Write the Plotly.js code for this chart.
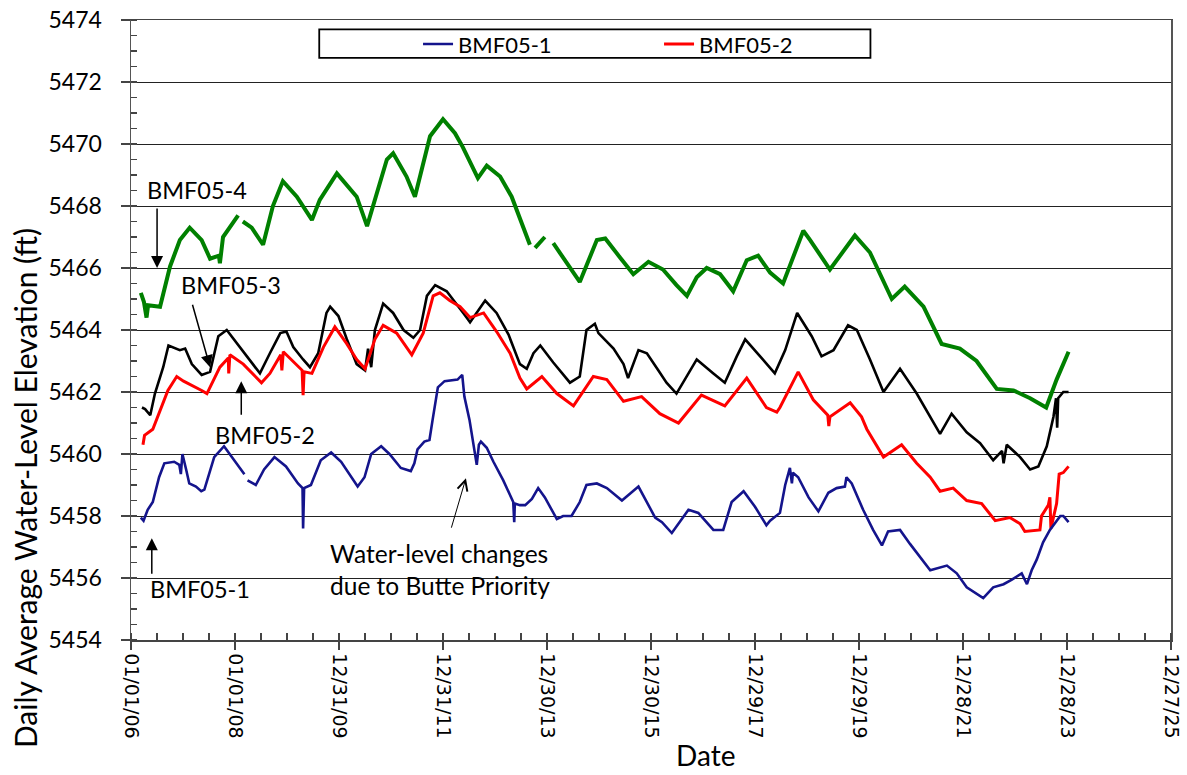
<!DOCTYPE html>
<html>
<head>
<meta charset="utf-8">
<script src="https://cdn.plot.ly/plotly-3.0.1.min.js"></script>
<style>html,body{margin:0;padding:0;background:#fff;}#chart{width:1187px;height:775px;}</style>
</head>
<body>
<div id="chart"></div>
<script>
// ---- Data (x in decimal years; y in ft) ----
const tickDates = ['2006-01-01','2008-01-01','2009-12-31','2011-12-31','2013-12-30','2015-12-30','2017-12-29','2019-12-29','2021-12-28','2023-12-28','2025-12-27'];
const tickLabels = ['01/01/06','01/01/08','12/31/09','12/31/11','12/30/13','12/30/15','12/29/17','12/29/19','12/28/21','12/28/23','12/27/25'];

const bmf1Years = [2006.19,2006.24,2006.32,2006.42,2006.54,2006.64,2006.83,2006.93,2006.96,2006.99,2007.06,2007.12,2007.25,2007.35,2007.41,2007.60,2007.79,2007.99,2008.18,2008.20,2008.24,2008.40,2008.56,2008.76,2008.98,2009.21,2009.30,2009.31,2009.33,2009.46,2009.65,2009.85,2010.04,2010.36,2010.49,2010.62,2010.81,2010.97,2011.19,2011.38,2011.45,2011.51,2011.64,2011.74,2011.80,2011.90,2012.03,2012.28,2012.37,2012.41,2012.51,2012.60,2012.65,2012.69,2012.73,2012.84,2012.97,2013.16,2013.35,2013.37,2013.38,2013.48,2013.58,2013.71,2013.83,2013.96,2014.19,2014.31,2014.47,2014.63,2014.76,2014.96,2015.15,2015.44,2015.76,2016.08,2016.21,2016.40,2016.72,2016.91,2017.20,2017.39,2017.55,2017.78,2018.00,2018.22,2018.29,2018.48,2018.58,2018.67,2018.71,2018.73,2018.83,2019.03,2019.22,2019.41,2019.57,2019.73,2019.76,2019.86,2020.08,2020.27,2020.44,2020.56,2020.79,2020.98,2021.17,2021.37,2021.69,2021.88,2022.07,2022.20,2022.39,2022.58,2022.78,2022.94,2023.13,2023.23,2023.32,2023.42,2023.54,2023.67,2023.87,2023.93,2024.03];
const bmf1Values = [5457.95,5457.85,5458.2,5458.45,5459.25,5459.7,5459.75,5459.65,5459.35,5460.0,5459.5,5459.05,5458.95,5458.8,5458.85,5459.9,5460.25,5459.8,5459.35,null,5459.15,5459.0,5459.5,5459.9,5459.6,5459.05,5458.9,5457.6,5458.9,5459.0,5459.8,5460.05,5459.75,5458.95,5459.25,5460.0,5460.25,5460.0,5459.55,5459.45,5459.7,5460.15,5460.4,5460.45,5461.1,5462.15,5462.35,5462.4,5462.55,5461.85,5461.1,5460.25,5459.65,5460.3,5460.4,5460.2,5459.75,5459.15,5458.45,5457.8,5458.4,5458.35,5458.35,5458.55,5458.9,5458.6,5457.9,5458.0,5458.0,5458.45,5459.0,5459.05,5458.9,5458.5,5458.95,5457.95,5457.8,5457.45,5458.2,5458.1,5457.55,5457.55,5458.45,5458.8,5458.3,5457.7,5457.85,5458.1,5459.0,5459.55,5459.05,5459.4,5459.25,5458.6,5458.15,5458.75,5458.9,5458.95,5459.25,5459.05,5458.2,5457.55,5457.05,5457.5,5457.55,5457.1,5456.7,5456.25,5456.4,5456.15,5455.7,5455.55,5455.35,5455.7,5455.8,5455.95,5456.15,5455.8,5456.25,5456.6,5457.15,5457.55,5458.0,5458.0,5457.8];

const bmf2Years = [2006.23,2006.26,2006.42,2006.54,2006.71,2006.88,2007.01,2007.36,2007.46,2007.71,2007.87,2007.88,2007.90,2008.16,2008.51,2008.67,2008.88,2008.90,2008.93,2009.29,2009.31,2009.33,2009.48,2009.70,2009.92,2010.15,2010.34,2010.50,2010.69,2010.85,2011.11,2011.40,2011.62,2011.81,2011.94,2012.13,2012.33,2012.52,2012.78,2013.03,2013.29,2013.48,2013.61,2013.90,2014.19,2014.51,2014.89,2015.15,2015.47,2015.82,2016.17,2016.53,2016.97,2017.42,2017.84,2018.22,2018.42,2018.48,2018.83,2019.12,2019.40,2019.42,2019.44,2019.83,2020.05,2020.15,2020.47,2020.82,2021.11,2021.37,2021.56,2021.81,2022.07,2022.36,2022.62,2022.90,2023.10,2023.19,2023.48,2023.51,2023.64,2023.67,2023.69,2023.80,2023.85,2023.93,2023.98,2024.03];
const bmf2Values = [5460.3,5460.6,5460.8,5461.3,5462.05,5462.5,5462.35,5462.05,5461.95,5462.8,5463.1,5462.6,5463.2,5462.9,5462.3,5462.6,5463.2,5462.7,5463.3,5462.7,5461.9,5462.65,5462.6,5463.45,5464.1,5463.55,5463.05,5462.75,5463.7,5464.15,5463.9,5463.2,5463.9,5465.1,5465.2,5464.95,5464.75,5464.4,5464.55,5463.95,5463.25,5462.45,5462.1,5462.5,5461.95,5461.55,5462.5,5462.4,5461.7,5461.85,5461.3,5461.0,5461.9,5461.55,5462.45,5461.5,5461.35,5461.5,5462.65,5461.75,5461.25,5460.9,5461.2,5461.65,5461.2,5460.8,5459.9,5460.3,5459.7,5459.25,5458.8,5458.9,5458.5,5458.4,5457.85,5457.95,5457.75,5457.5,5457.55,5458.0,5458.35,5458.6,5457.6,5458.4,5459.35,5459.4,5459.5,5459.6];

const bmf3Years = [2006.21,2006.27,2006.37,2006.46,2006.62,2006.72,2006.94,2007.04,2007.17,2007.36,2007.52,2007.68,2007.84,2008.16,2008.48,2008.67,2008.87,2008.99,2009.12,2009.31,2009.44,2009.60,2009.76,2009.83,2009.99,2010.15,2010.34,2010.50,2010.56,2010.62,2010.69,2010.85,2011.04,2011.24,2011.43,2011.56,2011.69,2011.85,2012.07,2012.39,2012.52,2012.81,2013.03,2013.26,2013.48,2013.61,2013.74,2013.87,2014.12,2014.44,2014.63,2014.76,2014.92,2014.99,2015.28,2015.47,2015.56,2015.76,2015.92,2016.14,2016.30,2016.49,2016.88,2017.20,2017.42,2017.65,2017.81,2018.10,2018.38,2018.58,2018.81,2019.09,2019.28,2019.51,2019.79,2019.96,2020.21,2020.47,2020.66,2020.79,2021.11,2021.37,2021.56,2021.78,2022.07,2022.33,2022.58,2022.75,2022.78,2022.84,2023.10,2023.29,2023.45,2023.61,2023.74,2023.79,2023.81,2023.83,2023.93,2024.03];
const bmf3Values = [5461.5,5461.45,5461.25,5461.95,5462.8,5463.5,5463.35,5463.4,5462.9,5462.55,5462.65,5463.8,5464.0,5463.3,5462.6,5463.25,5463.9,5463.95,5463.45,5463.05,5462.8,5463.25,5464.55,5464.75,5464.45,5463.7,5462.9,5462.7,5463.4,5462.8,5464.0,5464.85,5464.55,5464.0,5463.75,5464.0,5465.1,5465.45,5465.25,5464.55,5464.25,5464.95,5464.55,5463.85,5462.9,5462.75,5463.25,5463.5,5462.95,5462.3,5462.5,5464.0,5464.2,5463.9,5463.4,5462.9,5462.45,5463.35,5463.25,5462.7,5462.3,5461.95,5463.05,5462.6,5462.3,5463.15,5463.7,5463.15,5462.6,5463.35,5464.55,5463.8,5463.15,5463.35,5464.15,5464.0,5463.05,5462.0,5462.45,5462.75,5461.95,5461.2,5460.65,5461.3,5460.7,5460.35,5459.8,5460.1,5459.7,5460.3,5459.9,5459.5,5459.6,5460.25,5461.2,5461.8,5460.85,5461.8,5462.0,5462.0];

const bmf4Years = [2006.19,2006.25,2006.30,2006.33,2006.56,2006.75,2006.94,2007.13,2007.36,2007.52,2007.69,2007.71,2007.77,2008.06,2008.08,2008.15,2008.32,2008.54,2008.73,2008.92,2009.19,2009.48,2009.63,2009.96,2010.34,2010.54,2010.69,2010.92,2011.04,2011.30,2011.46,2011.56,2011.75,2012.00,2012.23,2012.38,2012.67,2012.84,2013.10,2013.32,2013.67,2013.70,2013.77,2013.96,2014.00,2014.12,2014.63,2014.96,2015.12,2015.40,2015.66,2015.95,2016.23,2016.49,2016.69,2016.88,2017.07,2017.33,2017.58,2017.84,2018.06,2018.29,2018.54,2018.93,2019.06,2019.44,2019.92,2020.21,2020.63,2020.88,2021.24,2021.59,2021.94,2022.26,2022.65,2022.97,2023.29,2023.60,2023.80,2024.03];
const bmf4Values = [5465.2,5464.9,5464.4,5464.8,5464.75,5466.05,5466.9,5467.3,5466.9,5466.3,5466.4,5466.15,5467.0,5467.7,null,5467.5,5467.3,5466.75,5468.0,5468.8,5468.3,5467.55,5468.2,5469.05,5468.3,5467.35,5468.2,5469.5,5469.7,5468.95,5468.3,5469.0,5470.25,5470.8,5470.35,5469.9,5468.9,5469.3,5468.95,5468.3,5466.75,null,5466.65,5467.0,null,5466.8,5465.55,5466.9,5466.95,5466.35,5465.8,5466.2,5465.95,5465.45,5465.1,5465.7,5466.0,5465.8,5465.25,5466.25,5466.4,5465.85,5465.5,5467.2,5466.9,5465.95,5467.05,5466.5,5465.0,5465.4,5464.75,5463.55,5463.4,5463.0,5462.1,5462.05,5461.8,5461.5,5462.4,5463.3];

// decimal year (365-day steps, as on the axis) -> ISO date
function toDate(yr){
  const ms = Date.UTC(2006,0,1) + Math.round((yr-2006)*365)*86400000;
  return new Date(ms).toISOString().slice(0,10);
}
const conv = a => a.map(toDate);

const FONT = 'Lato, "Open Sans", sans-serif';
const traces = [
  {x: conv(bmf4Years), y: bmf4Values, name:'BMF05-4', mode:'lines', line:{color:'#008000', width:4}, showlegend:false},
  {x: conv(bmf3Years), y: bmf3Values, name:'BMF05-3', mode:'lines', line:{color:'#000000', width:2.6}, showlegend:false},
  {x: conv(bmf2Years), y: bmf2Values, name:'BMF05-2', mode:'lines', line:{color:'#ff0000', width:3}},
  {x: conv(bmf1Years), y: bmf1Values, name:'BMF05-1', mode:'lines', line:{color:'#14148c', width:2.6}}
];

const txt = (x, y, text, extra) => Object.assign({x: toDate(x), y: y, xref:'x', yref:'y', text: text, showarrow:false, font:{family:FONT, size:23.5, color:'#000'}}, extra||{});
const arr = (x, y, ax, ay, head, size, w) => ({x: toDate(x), y: y, xref:'x', yref:'y', text:'', showarrow:true, arrowhead:head, arrowsize:size, arrowwidth:w, arrowcolor:'#000', ax:ax, ay:ay, standoff:0, startstandoff:0});

const layout = {
  width:1187, height:775,
  margin:{l:131, r:16, t:20, b:135},
  paper_bgcolor:'#fff', plot_bgcolor:'#fff',
  showlegend:true,
  legend:{orientation:'h', x:0.276, xanchor:'left', y:0.961, yanchor:'middle', traceorder:'reversed',
          entrywidth:196, entrywidthmode:'pixels', bgcolor:'rgba(0,0,0,0)', font:{family:FONT, size:22, color:'#000'}},
  xaxis:{type:'date', range:['2006-01-01','2025-12-27'], tickmode:'array', tickvals:tickDates, ticktext:tickLabels,
         tickangle:90, tickfont:{family:'"DejaVu Sans", sans-serif', size:19, color:'#000'},
         ticks:'outside', ticklen:8, tickwidth:1.3, tickcolor:'#444', showgrid:false, zeroline:false,
         showline:true, linecolor:'#444', linewidth:1.5, mirror:true,
         minor:{tickmode:'linear', tick0:'2006-01-01', dtick:182.5*86400000, ticks:'inside', ticklen:7, tickcolor:'#444', tickwidth:1.2, showgrid:false}},
  yaxis:{range:[5454,5474], dtick:2, tick0:5454, tickformat:'d', tickfont:{family:FONT, size:23, color:'#000'},
         ticks:'outside', ticklen:9, tickwidth:1.3, tickcolor:'#444', ticklabelstandoff:14,
         showgrid:true, gridcolor:'#222', gridwidth:1, zeroline:false,
         showline:true, linecolor:'#555', linewidth:1.5, mirror:true,
         minor:{dtick:0.5, ticks:'inside', ticklen:6, tickcolor:'#444', tickwidth:1.2, showgrid:false}},
  shapes:[{type:'rect', xref:'paper', yref:'paper', x0:0.181, x1:0.711, y0:0.939, y1:0.985, line:{color:'#000', width:1.8}, fillcolor:'#fff', layer:'below'}],
  annotations:[
    {xref:'paper', yref:'paper', x:-0.1019, y:0.245, xanchor:'center', yanchor:'middle', text:'Daily Average Water-Level Elevation (ft)', textangle:-90, showarrow:false, font:{family:FONT, size:30, color:'#000'}},
    {xref:'paper', yref:'paper', x:0.552, y:-0.1855, xanchor:'center', yanchor:'middle', text:'Date', showarrow:false, font:{family:FONT, size:28, color:'#000'}},
    txt(2007.27, 5468.52, 'BMF05-4'),
    txt(2007.92, 5465.45, 'BMF05-3'),
    txt(2008.58, 5460.61, 'BMF05-2'),
    txt(2007.33, 5455.64, 'BMF05-1'),
    txt(2009.79, 5456.29, 'Water-level changes<br>due to Butte Priority', {xanchor:'left', yanchor:'middle', align:'left', font:{family:FONT, size:24.5, color:'#000'}}),
    arr(2006.50, 5466.0, 0, -61, 2, 1.6, 1.5),
    arr(2007.52, 5462.8, -18, -64, 2, 1.6, 1.5),
    arr(2008.12, 5462.35, 0, 35, 2, 1.6, 1.5),
    arr(2006.40, 5457.28, 0, 37, 2, 1.6, 1.5),
    arr(2012.44, 5459.22, -15, 51, 5, 2.0, 1)
  ]
};

Plotly.newPlot('chart', traces, layout, {displayModeBar:false, staticPlot:true});
</script>
</body>
</html>
